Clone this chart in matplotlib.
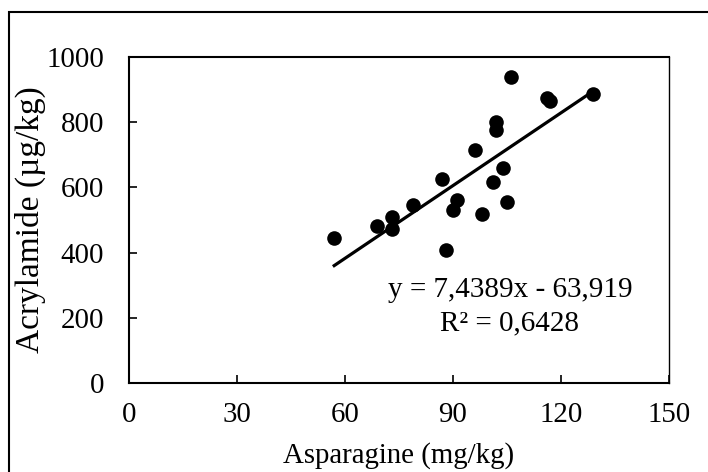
import matplotlib
matplotlib.use("Agg")
import matplotlib.pyplot as plt
from matplotlib.patches import Rectangle
import numpy as np

asparagine = [57, 106, 129, 116, 117, 102, 102, 96, 104, 101, 87, 91, 90, 98, 105, 79, 73, 73, 69, 88]
acrylamide = [445, 938, 887, 874, 864, 800, 775, 714, 660, 618, 625, 560, 530, 518, 555, 545, 508, 472, 483, 408]
slope = 7.4389
intercept = -63.919
r2_text = "R² = 0,6428"
eq_text = "y = 7,4389x - 63,919"
xticks = [0, 30, 60, 90, 120, 150]
yticks = [0, 200, 400, 600, 800, 1000]

plt.rcParams['font.family'] = ['Liberation Serif', 'DejaVu Serif']
fs = 20.8

fig = plt.figure(figsize=(7.08, 4.72), dpi=100)
ax = fig.add_axes([129/708, 1-383/472, (669-129)/708, (383-57)/472])

ax.scatter(asparagine, acrylamide, s=10.5**2, color='black', zorder=3, linewidths=0)
xl = np.array([min(asparagine), max(asparagine)])
ax.plot(xl, slope*xl + intercept, color='black', lw=2.3, zorder=2)

ax.set_xlim(0, 150)
ax.set_ylim(0, 1000)
ax.set_xticks(xticks)
ax.set_yticks(yticks)
ax.tick_params(direction='in', length=6, width=1.2, labelsize=fs, color='black')
ax.tick_params(axis='y', pad=18)
ax.tick_params(axis='x', pad=14)
for s in ax.spines.values():
    s.set_linewidth(1.5)
    s.set_color('black')
ax.spines['right'].set_linewidth(1.0)

ax.set_xlabel("Asparagine (mg/kg)", fontsize=fs, labelpad=10)
ax.set_ylabel("Acrylamide (µg/kg)", fontsize=24, labelpad=0)

ax.text(510/708, 1-290/472, eq_text, transform=fig.transFigure, fontsize=21,
        ha='center', va='center')
ax.text(510/708, 1-323/472, r2_text, transform=fig.transFigure, fontsize=21,
        ha='center', va='center')

border = Rectangle((9/708, -0.1), 1.2, 1-12/472+0.1, transform=fig.transFigure,
                   fill=False, edgecolor='black', lw=1.5, clip_on=False)
fig.patches.append(border)

fig.savefig("out.png", dpi=100)
